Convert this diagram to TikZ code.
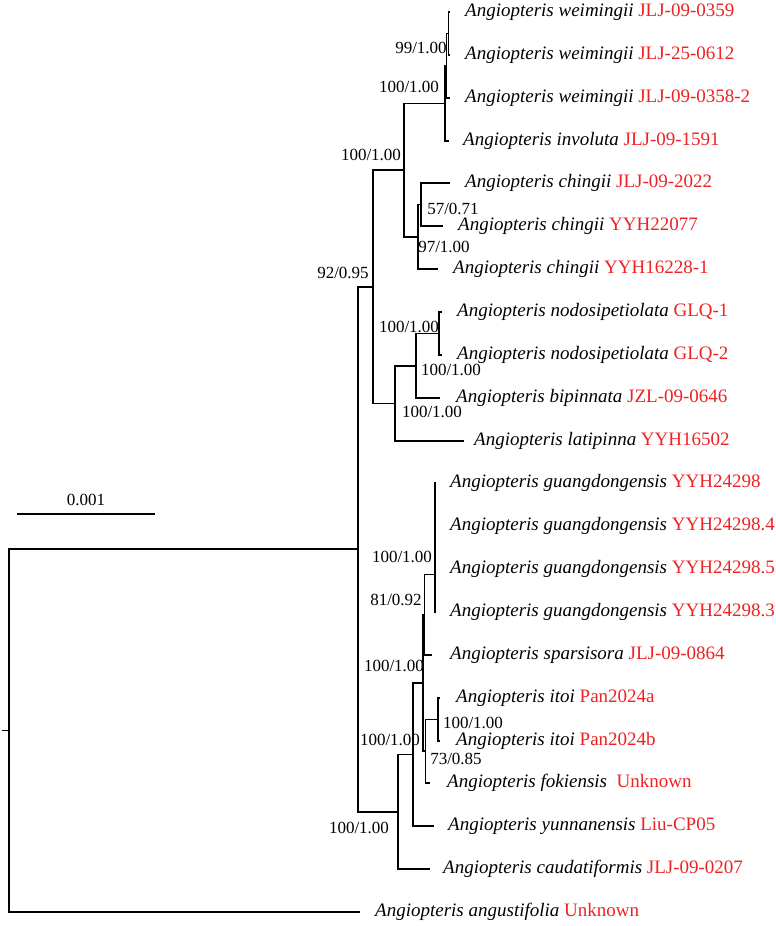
\documentclass[tikz,border=0pt]{standalone}
\usepackage{fontspec}
\setmainfont{Liberation Serif}
\usepackage{xcolor}
\usetikzlibrary{positioning}
\definecolor{voucherred}{HTML}{EE2222}

\begin{document}
\begin{tikzpicture}[
  x=1pt, y=-1pt,
  branch/.style={line width=1.7pt},
  taxon/.style={inner sep=0pt, font=\fontsize{19}{22}\selectfont},
  support/.style={inner sep=0pt, font=\fontsize{17}{20}\selectfont}
]
\useasboundingbox (0,0) rectangle (776,926);
% internal nodes
\coordinate (base) at (2,730.6);
\coordinate (root) at (9,730.6);
\coordinate (in) at (358,549.2);
\coordinate (cladeA) at (373,286.7);
\coordinate (cladeB) at (398,811.75);
\coordinate (a1) at (404,170);
\coordinate (wvi) at (445,103.4);
\coordinate (w1) at (446.5,65.75);
\coordinate (w2) at (448.5,33.5);
\coordinate (chg) at (418,236.75);
\coordinate (chg1) at (421,204.5);
\coordinate (a2) at (395,403.4);
\coordinate (nb) at (416,365.75);
\coordinate (nod) at (439,333.5);
\coordinate (giy) at (413,754.5);
\coordinate (gi) at (423,683);
\coordinate (gs) at (424.5,614.7);
\coordinate (g3) at (435,574.4);
\coordinate (g2) at (435,536.75);
\coordinate (g1) at (435,504.5);
\coordinate (itf) at (425.5,751.25);
\coordinate (it) at (438,719.5);
% tips
\coordinate (wei1) at (450,12);
\coordinate (wei2) at (450,55);
\coordinate (wei3) at (450,98);
\coordinate (inv) at (449,141);
\coordinate (chi1) at (450,183);
\coordinate (chi2) at (443,226);
\coordinate (chi3) at (438,269);
\coordinate (nod1) at (442,312);
\coordinate (nod2) at (442,355);
\coordinate (bip) at (440,398);
\coordinate (lat) at (464,441);
\coordinate (gua1) at (436,483);
\coordinate (gua2) at (436,526);
\coordinate (gua3) at (436,569);
\coordinate (gua4) at (436,612);
\coordinate (spa) at (432,655);
\coordinate (ito1) at (440,698);
\coordinate (ito2) at (440,741);
\coordinate (fok) at (430,783);
\coordinate (yun) at (434,826);
\coordinate (cau) at (430,869);
\coordinate (ang) at (360,912);

\draw[branch] (base) -- (root);
\foreach \p/\c in {root/in, root/ang, in/cladeA, in/cladeB, cladeA/a1, cladeA/a2,
    a1/wvi, a1/chg, wvi/w1, wvi/inv, w1/w2, w1/wei3, w2/wei1, w2/wei2,
    chg/chg1, chg/chi3, chg1/chi1, chg1/chi2, a2/nb, a2/lat, nb/nod, nb/bip,
    nod/nod1, nod/nod2, cladeB/giy, cladeB/cau, giy/gi, giy/yun, gi/gs, gi/itf,
    gs/g3, gs/spa, g3/g2, g3/gua4, g2/g1, g2/gua3, g1/gua1, g1/gua2,
    itf/it, itf/fok, it/ito1, it/ito2}
  \draw[branch] (\p) |- (\c);

% taxon labels
\node[taxon, right=15pt of wei1] (l-wei1) {\textit{Angiopteris weimingii} \textcolor{voucherred}{JLJ-09-0359}};
\node[taxon, right=15pt of wei2] (l-wei2) {\textit{Angiopteris weimingii} \textcolor{voucherred}{JLJ-25-0612}};
\node[taxon, right=15pt of wei3] (l-wei3) {\textit{Angiopteris weimingii} \textcolor{voucherred}{JLJ-09-0358-2}};
\node[taxon, right=14pt of inv] (l-inv) {\textit{Angiopteris involuta} \textcolor{voucherred}{JLJ-09-1591}};
\node[taxon, right=15pt of chi1] (l-chi1) {\textit{Angiopteris chingii} \textcolor{voucherred}{JLJ-09-2022}};
\node[taxon, right=15pt of chi2] (l-chi2) {\textit{Angiopteris chingii} \textcolor{voucherred}{YYH22077}};
\node[taxon, right=15pt of chi3] (l-chi3) {\textit{Angiopteris chingii} \textcolor{voucherred}{YYH16228-1}};
\node[taxon, right=15pt of nod1] (l-nod1) {\textit{Angiopteris nodosipetiolata} \textcolor{voucherred}{GLQ-1}};
\node[taxon, right=15pt of nod2] (l-nod2) {\textit{Angiopteris nodosipetiolata} \textcolor{voucherred}{GLQ-2}};
\node[taxon, right=16pt of bip] (l-bip) {\textit{Angiopteris bipinnata} \textcolor{voucherred}{JZL-09-0646}};
\node[taxon, right=10pt of lat] (l-lat) {\textit{Angiopteris latipinna} \textcolor{voucherred}{YYH16502}};
\node[taxon, right=14pt of gua1] (l-gua1) {\textit{Angiopteris guangdongensis} \textcolor{voucherred}{YYH24298}};
\node[taxon, right=14pt of gua2] (l-gua2) {\textit{Angiopteris guangdongensis} \textcolor{voucherred}{YYH24298.4}};
\node[taxon, right=14pt of gua3] (l-gua3) {\textit{Angiopteris guangdongensis} \textcolor{voucherred}{YYH24298.5}};
\node[taxon, right=14pt of gua4] (l-gua4) {\textit{Angiopteris guangdongensis} \textcolor{voucherred}{YYH24298.3}};
\node[taxon, right=18pt of spa] (l-spa) {\textit{Angiopteris sparsisora} \textcolor{voucherred}{JLJ-09-0864}};
\node[taxon, right=16pt of ito1] (l-ito1) {\textit{Angiopteris itoi} \textcolor{voucherred}{Pan2024a}};
\node[taxon, right=16pt of ito2] (l-ito2) {\textit{Angiopteris itoi} \textcolor{voucherred}{Pan2024b}};
\node[taxon, right=17pt of fok] (l-fok) {\textit{Angiopteris fokiensis}\ \ \textcolor{voucherred}{Unknown}};
\node[taxon, right=14pt of yun] (l-yun) {\textit{Angiopteris yunnanensis} \textcolor{voucherred}{Liu-CP05}};
\node[taxon, right=13pt of cau] (l-cau) {\textit{Angiopteris caudatiformis} \textcolor{voucherred}{JLJ-09-0207}};
\node[taxon, right=15pt of ang] (l-ang) {\textit{Angiopteris angustifolia} \textcolor{voucherred}{Unknown}};

% support values
\node[support] (s-w2) at (421,48) {99/1.00};
\node[support] (s-wvi) at (409,87) {100/1.00};
\node[support] (s-a1) at (371,155) {100/1.00};
\node[support] (s-chg1) at (453,209) {57/0.71};
\node[support] (s-chg) at (444,247) {97/1.00};
\node[support] (s-in) at (343,273) {92/0.95};
\node[support] (s-nod) at (409,327) {100/1.00};
\node[support] (s-nb) at (451,370) {100/1.00};
\node[support] (s-a2) at (432,412) {100/1.00};
\node[support] (s-g) at (402,557) {100/1.00};
\node[support] (s-gs) at (396,600) {81/0.92};
\node[support] (s-gi) at (394,666) {100/1.00};
\node[support] (s-it) at (473,723) {100/1.00};
\node[support] (s-giy) at (390,740) {100/1.00};
\node[support] (s-itf) at (456,759) {73/0.85};
\node[support] (s-cladeB) at (359,828) {100/1.00};

% scale bar
\coordinate (sb0) at (17,514);
\coordinate (sb1) at (155,514);
\draw[branch, line width=1.3pt] (sb0) -- node[support, above=8pt] (s-scale) {0.001} (sb1);
\end{tikzpicture}
\end{document}
